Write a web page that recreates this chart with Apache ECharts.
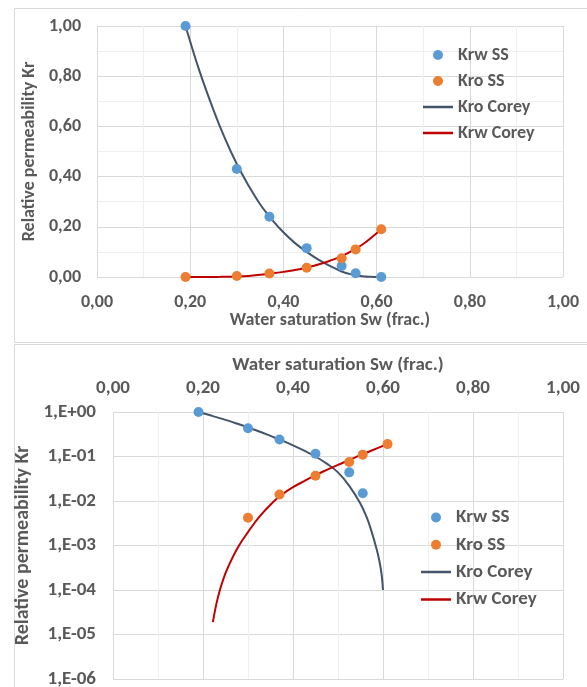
<!DOCTYPE html>
<html>
<head>
<meta charset="utf-8">
<script src="https://cdn.jsdelivr.net/npm/echarts@6/dist/echarts.min.js"></script>
<style>
html,body{margin:0;padding:0;background:#fff;}
#chart{width:587px;height:687px;}
</style>
</head>
<body>
<div id="chart"></div>
<script>
// ---- data ----
const swSS      = [0.19, 0.30, 0.37, 0.45, 0.525, 0.555, 0.61];
const krwSS     = [1.00, 0.43, 0.24, 0.115, 0.044, 0.015, 0.0];
const kroSS     = [0.0, 0.0042, 0.014, 0.037, 0.075, 0.11, 0.19];

const swKroCorey = [0.19, 0.22, 0.25, 0.275, 0.30, 0.325, 0.35, 0.375, 0.40, 0.425, 0.45, 0.475, 0.50, 0.525, 0.55, 0.565, 0.575, 0.585, 0.592, 0.597, 0.60];
const kroCorey   = [1.0, 0.82, 0.665, 0.55, 0.45, 0.365, 0.29, 0.23, 0.178, 0.135, 0.10, 0.069, 0.044, 0.0219, 0.0087, 0.0040, 0.0020, 0.00089, 0.00045, 0.00022, 0.0001];

const swKrwCorey = [0.19, 0.222, 0.23, 0.239, 0.25, 0.265, 0.28, 0.30, 0.325, 0.356, 0.375, 0.40, 0.425, 0.45, 0.475, 0.50, 0.525, 0.55, 0.575, 0.61];
const krwCorey   = [0, 1.9e-5, 5.0e-5, 1.12e-4, 2.4e-4, 5.2e-4, 1.0e-3, 2.0e-3, 4.4e-3, 0.0095, 0.0138, 0.0204, 0.028, 0.038, 0.050, 0.065, 0.083, 0.107, 0.1365, 0.19];

const seriesNames = ['Krw SS', 'Kro SS', 'Kro Corey', 'Krw Corey'];
const xTitle = 'Water saturation Sw (frac.)';
const yTitle = 'Relative permeability Kr';

// ---- helpers ----
const pairs = (xs, ys) => xs.map((x, i) => [x, ys[i]]);
const logPairs = (xs, ys) => xs.map((x, i) => [x, ys[i] > 0 ? ys[i] : null]);

const FONT = 'Carlito, Lato, sans-serif';
const TXT = '#595959';
const MAJOR = '#d9d9d9';
const MINOR = '#efefef';
const BLUE = '#5b9bd5', ORANGE = '#ed7d31', NAVY = '#44546a', RED = '#c00000';

const txt = size => ({color: TXT, fontFamily: FONT, fontWeight: 'bold', fontSize: size});
const linFmt = v => v.toFixed(2).replace('.', ',');
const logFmt = v => {
  const e = Math.round(Math.log10(v));
  return '1,E' + (e < 0 ? '-' : '+') + String(Math.abs(e)).padStart(2, '0');
};
const LINE_ICON = 'path://M0,0L0.01,0L0.01,0.01ZM0,3.75L30,3.75L30,6.25L0,6.25ZM29.99,10L30,10L30,9.99Z';
const legendData = seriesNames.map(n => n.indexOf('Corey') >= 0 ? {name: n, icon: LINE_ICON} : {name: n, icon: 'circle'});

function xAxisDef(gridIndex, position, nameGap, margin, size, tsize) {
  return {
    type: 'value', gridIndex, position, min: 0, max: 1, interval: 0.2,
    name: xTitle, nameLocation: 'middle', nameGap,
    nameTextStyle: txt(tsize),
    axisLine: {show: false}, axisTick: {show: false},
    axisLabel: Object.assign({margin, formatter: linFmt}, txt(size)),
    splitLine: {show: true, lineStyle: {color: MAJOR, width: 1}},
    minorTick: {show: false, splitNumber: 2},
    minorSplitLine: {show: true, lineStyle: {color: MINOR, width: 1}}
  };
}

function scatterSeries(name, data, color, xi) {
  return {
    name, type: 'scatter', xAxisIndex: xi, yAxisIndex: xi, data,
    symbol: 'circle', symbolSize: 10, z: 5,
    itemStyle: {color, opacity: 1}
  };
}
function lineSeries(name, data, color, xi) {
  return {
    name, type: 'line', xAxisIndex: xi, yAxisIndex: xi, data,
    symbol: 'none', showSymbol: false, smooth: 0.4,
    connectNulls: false, z: 3,
    lineStyle: {color, width: 2}, itemStyle: {color, borderWidth: 0}
  };
}

const option = {
  animation: false,
  backgroundColor: '#fff',
  textStyle: {fontFamily: FONT},
  graphic: [
    {type: 'rect', shape: {x: 14.5, y: 8.5, width: 600, height: 334}, style: {fill: 'none', stroke: MAJOR, lineWidth: 1}, silent: true, z: -10},
    {type: 'rect', shape: {x: 14.5, y: 344.5, width: 600, height: 400}, style: {fill: 'none', stroke: MAJOR, lineWidth: 1}, silent: true, z: -10}
  ],
  grid: [
    {left: 97, top: 26, width: 466, height: 251, containLabel: false, outerBoundsMode: 'none'},
    {left: 113, top: 412, width: 450, height: 267, containLabel: false, outerBoundsMode: 'none'}
  ],
  legend: [
    {
      data: legendData, orient: 'vertical', left: 418, top: 41,
      itemWidth: 30, itemHeight: 10, itemGap: 8,
      itemStyle: {borderWidth: 0},
      textStyle: txt(18), selectedMode: false
    },
    {
      data: legendData, orient: 'vertical', left: 416, top: 503,
      itemWidth: 30, itemHeight: 10, itemGap: 8.3,
      itemStyle: {borderWidth: 0},
      textStyle: txt(19), selectedMode: false
    }
  ],
  xAxis: [
    xAxisDef(0, 'bottom', 33, 16, 18, 18),
    xAxisDef(1, 'top', 37, 14, 19, 19)
  ],
  yAxis: [
    {
      type: 'value', gridIndex: 0, min: 0, max: 1, interval: 0.2,
      name: yTitle, nameLocation: 'middle', nameGap: 55, nameTextStyle: txt(18),
      axisLine: {show: false}, axisTick: {show: false},
      axisLabel: Object.assign({margin: 16, formatter: linFmt}, txt(18)),
      splitLine: {show: true, lineStyle: {color: MAJOR, width: 1}},
      minorTick: {show: false, splitNumber: 2},
      minorSplitLine: {show: true, lineStyle: {color: MINOR, width: 1}}
    },
    {
      type: 'log', logBase: 10, gridIndex: 1, min: 1e-6, max: 1, interval: 1,
      name: yTitle, nameLocation: 'middle', nameGap: 73, nameTextStyle: txt(20),
      axisLine: {show: false}, axisTick: {show: false},
      axisLabel: Object.assign({margin: 17, formatter: logFmt}, txt(19)),
      splitLine: {show: true, lineStyle: {color: MAJOR, width: 1}}
    }
  ],
  series: [
    scatterSeries('Krw SS', pairs(swSS, krwSS), BLUE, 0),
    scatterSeries('Kro SS', pairs(swSS, kroSS), ORANGE, 0),
    lineSeries('Kro Corey', pairs(swKroCorey, kroCorey), NAVY, 0),
    lineSeries('Krw Corey', pairs(swKrwCorey, krwCorey), RED, 0),
    scatterSeries('Krw SS', logPairs(swSS, krwSS), BLUE, 1),
    scatterSeries('Kro SS', logPairs(swSS, kroSS), ORANGE, 1),
    lineSeries('Kro Corey', logPairs(swKroCorey, kroCorey), NAVY, 1),
    lineSeries('Krw Corey', logPairs(swKrwCorey, krwCorey), RED, 1)
  ]
};

const chart = echarts.init(document.getElementById('chart'), null, {renderer: 'canvas'});
chart.setOption(option);
</script>
</body>
</html>
